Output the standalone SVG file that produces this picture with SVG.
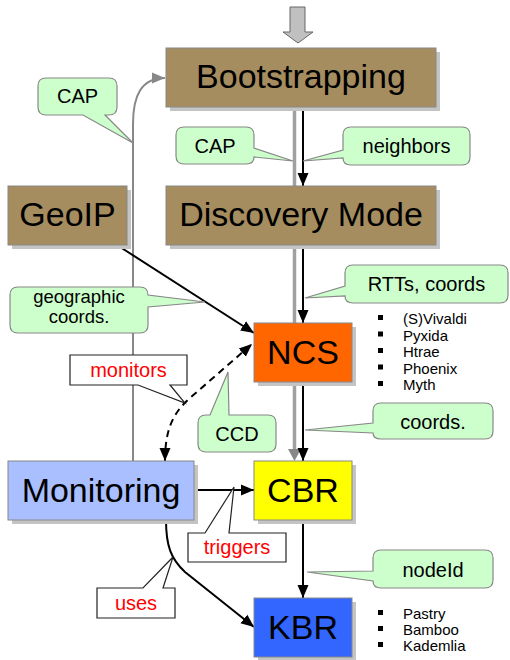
<svg xmlns="http://www.w3.org/2000/svg" width="510" height="660" viewBox="0 0 510 660">
  <style>
    text { font-family: "Liberation Sans", Arial, sans-serif; fill: #000; }
    .box { stroke: #888; stroke-width: 1; }
    .shadow { fill: #c4c4c4; }
    .big { font-size: 34px; text-anchor: middle; }
    .bubble { fill: #ccffcc; stroke: #888; stroke-width: 1.2; }
    .note { fill: #fff; stroke: #222; stroke-width: 1.2; }
    .lbl { font-size: 20px; text-anchor: middle; }
    .lbl2 { font-size: 18.5px; text-anchor: middle; }
    .red { font-size: 20px; text-anchor: middle; fill: #ff0000; }
    .item { font-size: 15px; }
    .dot { fill: #000; }
    .flow { fill: none; stroke: #000; stroke-width: 2; }
    .cap { fill: none; stroke: #888; stroke-width: 2; }
    .rail { fill: none; stroke: #a0a0a0; stroke-width: 3.5; }
  </style>
  <defs>
    <marker id="ah" markerUnits="userSpaceOnUse" markerWidth="14" markerHeight="14" viewBox="0 0 14 14" refX="13" refY="7" orient="auto">
      <path d="M0,1.5 L13,7 L0,12.5 z" fill="#000"/>
    </marker>
    <marker id="ahs" markerUnits="userSpaceOnUse" markerWidth="14" markerHeight="14" viewBox="0 0 14 14" refX="13" refY="7" orient="auto-start-reverse">
      <path d="M0,1.5 L13,7 L0,12.5 z" fill="#000"/>
    </marker>
    <marker id="ahg" markerUnits="userSpaceOnUse" markerWidth="14" markerHeight="14" viewBox="0 0 14 14" refX="13" refY="7" orient="auto">
      <path d="M0,1.5 L13,7 L0,12.5 z" fill="#888"/>
    </marker>
  </defs>

  <!-- entry arrow -->
  <polygon points="290,7 305,7 305,32 313,32 298,43 283,32 290,32" fill="#c0c0c0" stroke="#666" stroke-width="1"/>

  <g id="connectors">
    <!-- CAP feedback from Monitoring to Bootstrapping -->
    <path class="cap" d="M133,461 V124 C133,96 141,78 165,78" marker-end="url(#ahg)"/>
    <!-- grey rails -->
    <line class="rail" x1="294.5" y1="107" x2="294.5" y2="186"/>
    <line class="rail" x1="294.5" y1="245" x2="294.5" y2="323"/>
    <line class="rail" x1="294.5" y1="382" x2="294.5" y2="450"/>
    <path d="M288,449 L301,449 L294.5,461 z" fill="#888"/>
    <!-- main flow -->
    <line class="flow" x1="303" y1="107" x2="303" y2="186" marker-end="url(#ah)"/>
    <line class="flow" x1="303" y1="245" x2="303" y2="323" marker-end="url(#ah)"/>
    <line class="flow" x1="303" y1="382" x2="303" y2="461" marker-end="url(#ah)"/>
    <line class="flow" x1="303" y1="520" x2="303" y2="598" marker-end="url(#ah)"/>
    <line class="flow" x1="117" y1="245" x2="254" y2="333" marker-end="url(#ah)"/>
    <line class="flow" x1="194" y1="490" x2="254" y2="490" marker-end="url(#ah)"/>
    <path class="flow" d="M166,520 C166,546 171,559 185,572 L254,627" marker-end="url(#ah)"/>
    <path class="flow" d="M165,461 C165,428 174,412 190,398 L252,344" stroke-dasharray="7,5" marker-start="url(#ahs)" marker-end="url(#ah)"/>
  </g>

  <g id="bootstrapping">
    <rect class="shadow" x="170" y="52" width="270" height="59"/>
    <rect class="box" x="166" y="48" width="270" height="59" fill="#a68d5f"/>
    <text class="big" x="301" y="88">Bootstrapping</text>
  </g>
  <g id="geoip">
    <rect class="shadow" x="12" y="190" width="119" height="59"/>
    <rect class="box" x="8" y="186" width="119" height="59" fill="#a68d5f"/>
    <text class="big" x="67.5" y="226">GeoIP</text>
  </g>
  <g id="discovery">
    <rect class="shadow" x="170" y="190" width="270" height="59"/>
    <rect class="box" x="166" y="186" width="270" height="59" fill="#a68d5f"/>
    <text class="big" x="301" y="226">Discovery Mode</text>
  </g>
  <g id="ncs">
    <rect class="shadow" x="258" y="327" width="98" height="59"/>
    <rect class="box" x="254" y="323" width="98" height="59" fill="#ff6600"/>
    <text class="big" x="303" y="364">NCS</text>
  </g>
  <g id="monitoring">
    <rect class="shadow" x="12" y="465" width="186" height="59"/>
    <rect class="box" x="8" y="461" width="186" height="59" fill="#a9bfff"/>
    <text class="big" x="101" y="502">Monitoring</text>
  </g>
  <g id="cbr">
    <rect class="shadow" x="258" y="465" width="98" height="59"/>
    <rect class="box" x="254" y="461" width="98" height="59" fill="#ffff00"/>
    <text class="big" x="303" y="502">CBR</text>
  </g>
  <g id="kbr">
    <rect class="shadow" x="258" y="602" width="98" height="59"/>
    <rect class="box" x="254" y="598" width="98" height="59" fill="#3366ff"/>
    <text class="big" x="303" y="639">KBR</text>
  </g>

  <!-- data labels -->
  <g id="cap-top">
    <path class="bubble" d="M46,78 H109 Q117,78 117,86 V107 Q117,115 109,115 H105 L133,143 L83,115 H46 Q38,115 38,107 V86 Q38,78 46,78 z"/>
    <text class="lbl" x="77.5" y="103">CAP</text>
  </g>
  <g id="cap-mid">
    <path class="bubble" d="M184,127 H246 Q254,127 254,135 V148 L293,161 L254,157 Q254,164 246,164 H184 Q176,164 176,156 V135 Q176,127 184,127 z"/>
    <text class="lbl" x="215" y="153">CAP</text>
  </g>
  <g id="neighbors">
    <path class="bubble" d="M351,127 H462 Q470,127 470,135 V157 Q470,165 462,165 H351 Q343,165 343,158 L303,161 L343,150 V135 Q343,127 351,127 z"/>
    <text class="lbl" x="406.5" y="153">neighbors</text>
  </g>
  <g id="geo-coords">
    <path class="bubble" d="M18,287 H140 Q148,287 148,295 L205,302 L148,307 V325 Q148,333 140,333 H18 Q10,333 10,325 V295 Q10,287 18,287 z"/>
    <text class="lbl2" x="79" y="303">geographic</text>
    <text class="lbl2" x="79" y="323">coords.</text>
  </g>
  <g id="rtts">
    <path class="bubble" d="M353,265 H500 Q508,265 508,273 V295 Q508,303 500,303 H353 Q345,303 345,296 L305,298 L345,286 V273 Q345,265 353,265 z"/>
    <text class="lbl" x="426.5" y="291">RTTs, coords</text>
  </g>
  <g id="ccd">
    <path class="bubble" d="M206,415 H210 L228,372 L229,415 H268 Q276,415 276,423 V444 Q276,452 268,452 H206 Q198,452 198,444 V423 Q198,415 206,415 z"/>
    <text class="lbl" x="237" y="441">CCD</text>
  </g>
  <g id="coords">
    <path class="bubble" d="M381,403 H485 Q493,403 493,411 V431 Q493,439 485,439 H381 Q373,439 373,433 L305,430 L373,423 V411 Q373,403 381,403 z"/>
    <text class="lbl" x="433" y="429">coords.</text>
  </g>
  <g id="nodeid">
    <path class="bubble" d="M381,550 H485 Q493,550 493,558 V580 Q493,588 485,588 H381 Q373,588 373,581 L307,572 L373,571 V558 Q373,550 381,550 z"/>
    <text class="lbl" x="433" y="577">nodeId</text>
  </g>

  <!-- relation notes -->
  <g id="monitors">
    <path class="note" d="M70,355 H187 V385 H170 L185,403 L138,385 H70 z"/>
    <text class="red" x="128.5" y="377">monitors</text>
  </g>
  <g id="triggers">
    <path class="note" d="M188,533 H205 L234,487 L229,533 H286 V562 H188 z"/>
    <text class="red" x="237" y="554">triggers</text>
  </g>
  <g id="uses">
    <path class="note" d="M97,588 H143 L173,557 L163,588 H175 V618 H97 z"/>
    <text class="red" x="136" y="610">uses</text>
  </g>

  <!-- coordinate systems -->
  <g id="ncs-list">
    <rect class="dot" x="378" y="315" width="5" height="5"/>
    <text class="item" x="403" y="324">(S)Vivaldi</text>
    <rect class="dot" x="378" y="331.5" width="5" height="5"/>
    <text class="item" x="403" y="340.5">Pyxida</text>
    <rect class="dot" x="378" y="348" width="5" height="5"/>
    <text class="item" x="403" y="357">Htrae</text>
    <rect class="dot" x="378" y="364.5" width="5" height="5"/>
    <text class="item" x="403" y="373.5">Phoenix</text>
    <rect class="dot" x="378" y="381" width="5" height="5"/>
    <text class="item" x="403" y="390">Myth</text>
  </g>
  <!-- overlays -->
  <g id="kbr-list">
    <rect class="dot" x="378" y="610" width="5" height="5"/>
    <text class="item" x="403" y="619">Pastry</text>
    <rect class="dot" x="378" y="626" width="5" height="5"/>
    <text class="item" x="403" y="635">Bamboo</text>
    <rect class="dot" x="378" y="642" width="5" height="5"/>
    <text class="item" x="403" y="651">Kademlia</text>
  </g>
</svg>
